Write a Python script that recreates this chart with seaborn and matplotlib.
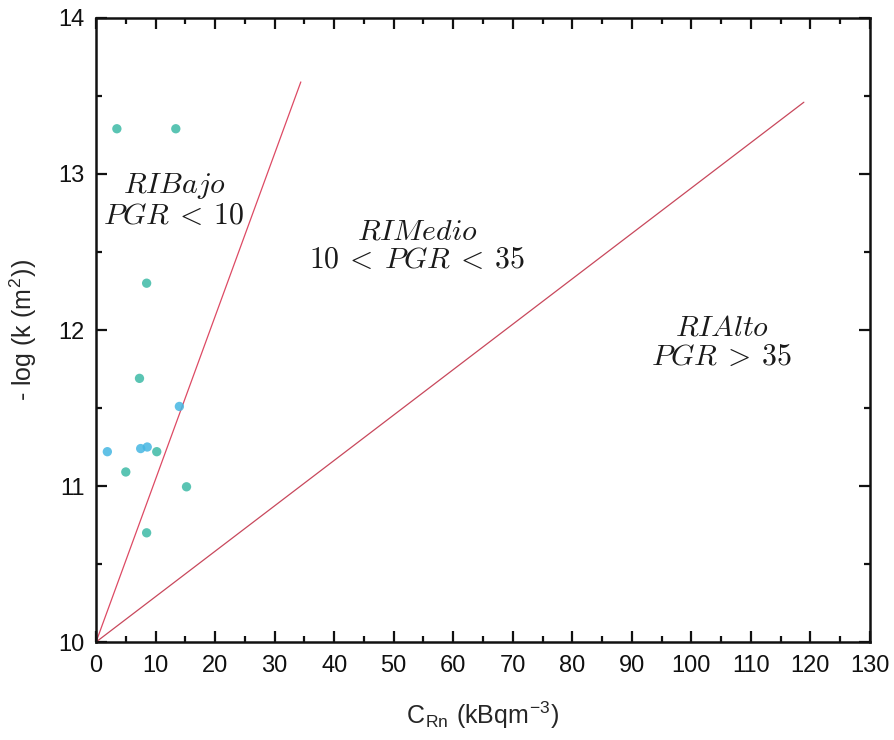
import matplotlib
matplotlib.use("Agg")
import matplotlib.pyplot as plt
from matplotlib.ticker import MultipleLocator
import seaborn as sns
import pandas as pd

# Measured samples: radon concentration vs. permeability
c_rn = [3.5, 13.4, 8.5, 7.3, 14.0, 1.9, 7.5, 8.6, 10.2, 5.0, 15.2, 8.5]
neg_log_k = [13.29, 13.29, 12.30, 11.69, 11.51, 11.22, 11.24, 11.25, 11.22, 11.09, 10.995, 10.70]
group = ["a", "a", "a", "a", "b", "b", "b", "b", "a", "a", "a", "a"]

# Boundary lines between risk classes (start and end points)
low_line_x = [0.0, 34.4]
low_line_y = [10.0, 13.59]
high_line_x = [0.0, 118.9]
high_line_y = [10.0, 13.46]

x_ticks = list(range(0, 131, 10))
y_ticks = [10, 11, 12, 13, 14]

sns.set_style("ticks")
plt.rcParams["font.family"] = ["Liberation Sans", "DejaVu Sans"]
plt.rcParams["mathtext.fontset"] = "cm"

fig = plt.figure(figsize=(8.95, 7.4), dpi=100)
ax = fig.add_axes([0.1073, 0.1324, 0.8647, 0.8433])

pts = pd.DataFrame({"c": c_rn, "k": neg_log_k, "g": group})
sns.scatterplot(data=pts, x="c", y="k", hue="g",
                palette={"a": "#3dbaa6", "b": "#45b6e2"},
                s=45, linewidth=0, alpha=0.85, legend=False, ax=ax, zorder=3)

sns.lineplot(x=low_line_x, y=low_line_y, color="#dd4a64", linewidth=0.9, ax=ax)
sns.lineplot(x=high_line_x, y=high_line_y, color="#c8485c", linewidth=0.9, ax=ax)

ax.set_xlim(0, 130)
ax.set_ylim(10, 14)
ax.set_xticks(x_ticks)
ax.set_yticks(y_ticks)
ax.xaxis.set_minor_locator(MultipleLocator(5))
ax.yaxis.set_minor_locator(MultipleLocator(0.5))
ax.tick_params(which="both", direction="in", top=True, right=True, width=1.6,
               labelsize=17, colors="#111111")
ax.tick_params(which="major", length=8)
ax.tick_params(which="minor", length=4)
ax.tick_params(axis="x", pad=9)
ax.tick_params(axis="y", pad=8)
for sp in ax.spines.values():
    sp.set_visible(True)
    sp.set_linewidth(1.8)
    sp.set_color("#111111")

ax.set_xlabel(r"C$_{\mathregular{Rn}}$ (kBqm$^{\mathregular{-3}}$)", fontsize=18, labelpad=17)
ax.set_ylabel(r"- log (k (m$^{\mathregular{2}}$))", fontsize=18, labelpad=14)

txt_kw = dict(fontsize=21.5, ha="center", va="center", color="#1a1a1a", linespacing=1.05)
ax.text(13.1, 12.83, r"$RIBajo$" "\n" r"$PGR\:<\:10$", **txt_kw)
ax.text(53.9, 12.54, r"$RIMedio$" "\n" r"$10\:<\:PGR\:<\:35$", **txt_kw)
ax.text(105.1, 11.92, r"$RIAlto$" "\n" r"$PGR\:>\:35$", **txt_kw)

fig.savefig("out.png", dpi=100)
